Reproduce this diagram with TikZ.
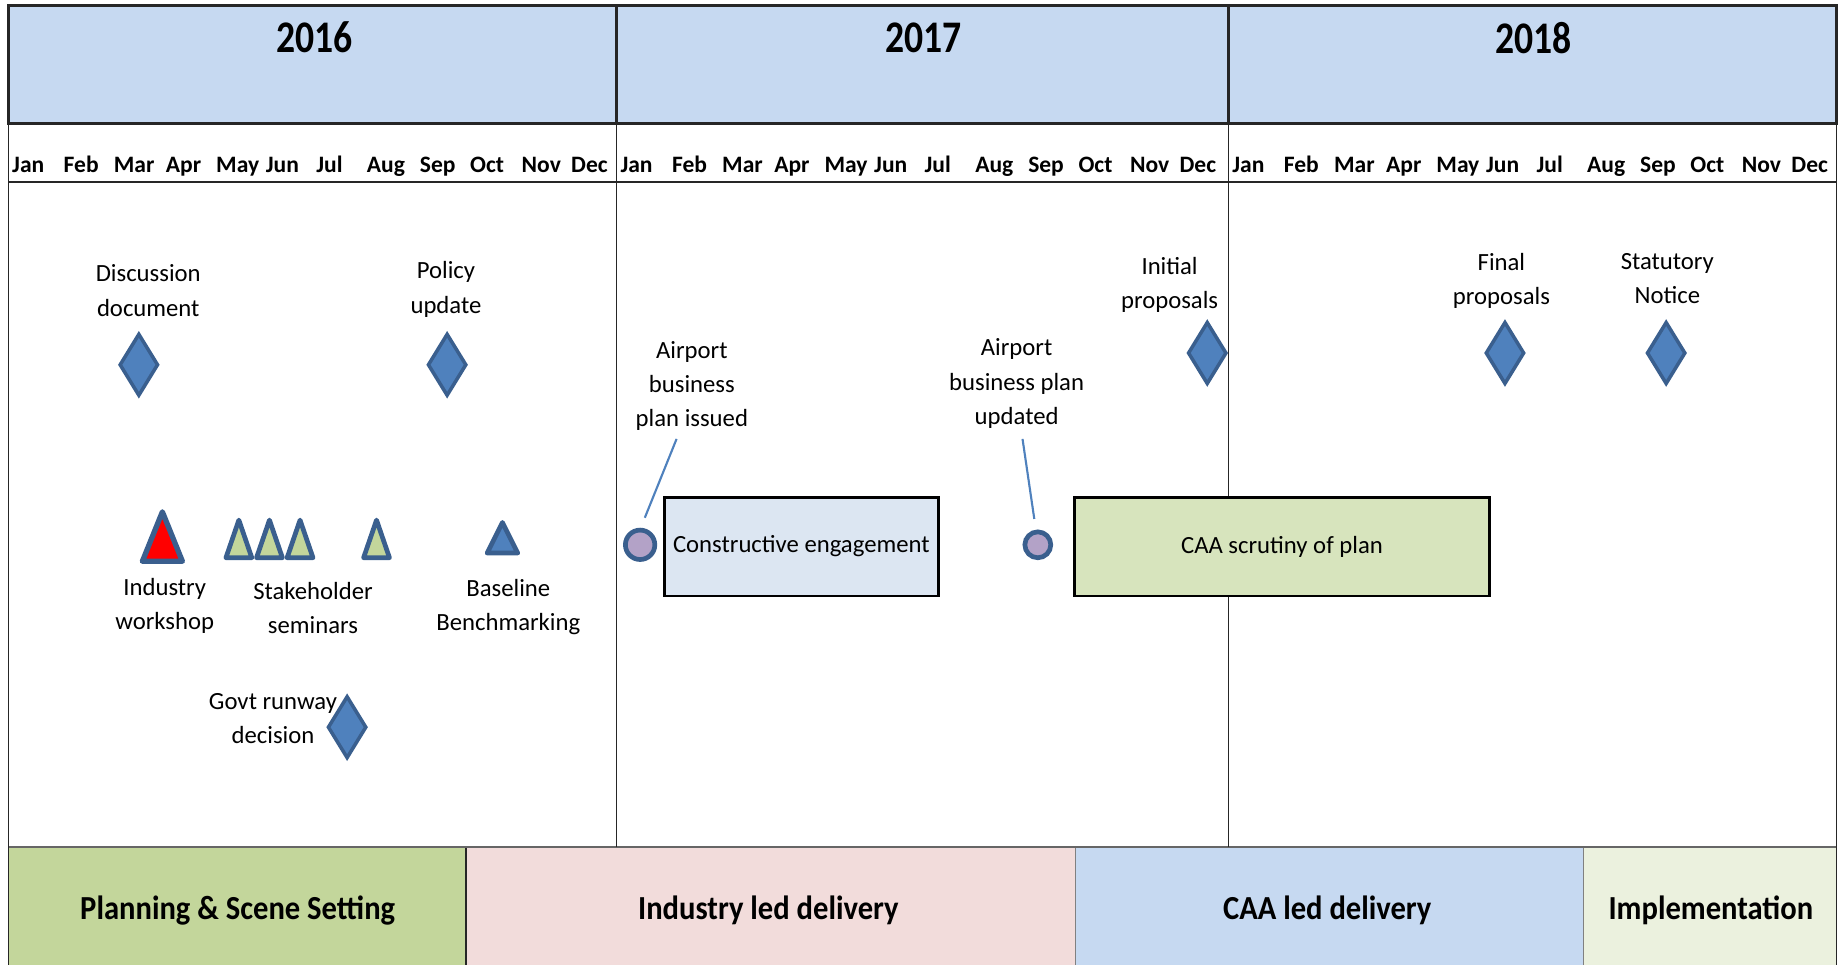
\documentclass[tikz,border=0pt]{standalone}
\usepackage{fontspec}
\setmainfont{Carlito}
\usetikzlibrary{shapes.geometric}
\definecolor{hdr}{HTML}{C6D9F1}
\definecolor{cebox}{HTML}{DCE6F2}
\definecolor{caabox}{HTML}{D7E4BD}
\definecolor{phA}{HTML}{C3D69B}
\definecolor{phB}{HTML}{F2DCDB}
\definecolor{phC}{HTML}{C6D9F1}
\definecolor{phD}{HTML}{EBF1DE}
\definecolor{dfill}{HTML}{4F81BD}
\definecolor{dbord}{HTML}{3A5F8E}
\definecolor{lav}{HTML}{B3A2C7}
\definecolor{sgreen}{HTML}{C3D69B}
\definecolor{gridc}{HTML}{262626}
\newcommand{\tallA}[1]{\scalebox{1}[1.2]{#1}}
\newcommand{\tallB}[1]{\scalebox{1}[1.1]{#1}}
\begin{document}
\begin{tikzpicture}[x=1pt,y=-1pt,
  yearlbl/.style={font=\fontsize{32}{36}\selectfont\bfseries, inner sep=0},
  monlbl/.style={font=\fontsize{20}{24}\selectfont\bfseries, inner sep=0, anchor=base},
  lbl/.style={font=\fontsize{21}{29}\selectfont, align=center, inner sep=0},
  phlbl/.style={font=\fontsize{26}{30}\selectfont\bfseries, inner sep=0},
  mile/.style={diamond, draw=dbord, fill=dfill, line width=3pt, minimum width=33pt, minimum height=53pt, inner sep=0},
  tri/.style={draw=dbord, line width=4.5pt, line join=round},
  evt/.style={circle, draw=dbord, fill=lav, line width=4pt, inner sep=0},
  bar/.style={draw=black, line width=2.5pt, inner sep=0, minimum height=84pt, font=\fontsize{21}{25}\selectfont},
  conn/.style={draw=dfill, line width=1.8pt},
  thickln/.style={draw=gridc, line width=2.5pt},
  thinln/.style={draw=gridc, line width=1pt}
]
\useasboundingbox (0,0) rectangle (1568,820);
% header
\fill[hdr] (7,5) rectangle (1561,105);
% phase row
\path[fill=phA] (7,720) rectangle (396,825);
\path[fill=phB] (396,720) rectangle (914,825);
\path[fill=phC] (914,720) rectangle (1346,825);
\path[fill=phD] (1346,720) rectangle (1561,825);
\draw[thinln] (396,720) -- (396,825);
\draw[draw=gray, line width=0.8pt] (914,720) -- (914,825);
\draw[draw=gray, line width=0.8pt] (1346,720) -- (1346,825);
\draw[draw=gray!80!black, line width=2pt] (7,720) -- (1561,720);
% body vertical lines
\draw[thinln] (524,155) -- (524,720);
\draw[thinln] (1044,155) -- (1044,720);
\draw[thinln] (7,155) -- (7,825);
\draw[thinln] (1561,155) -- (1561,825);
% header frame
\draw[thickln] (7,5) rectangle (1561,105);
\draw[thickln] (524,5) -- (524,105);
\draw[thickln] (1044,5) -- (1044,105);
\draw[thinln] (7,105) -- (7,155);
\draw[thinln] (1561,105) -- (1561,155);
\draw[draw=gridc, line width=1.6pt] (7,155) -- (1561,155);
\draw[thinln] (524,105) -- (524,155);
\draw[thinln] (1044,105) -- (1044,155);

% years
\node[yearlbl] (y2016) at (267,32) {\tallA{2016}};
\node[yearlbl] (y2017) at (785,32) {\tallA{2017}};
\node[yearlbl] (y2018) at (1303,32) {\tallA{2018}};

% months
\foreach \yr/\x in {a/7,b/524,c/1044}{
  \foreach \m/\o in {Jan/17,Feb/62,Mar/107,Apr/149,May/195,Jun/233,Jul/273,Aug/321,Sep/365,Oct/407,Nov/453,Dec/494}{
    \node[monlbl] (\yr\m) at (\x+\o,146.5) {\m};
  }
}

% milestones (diamonds)
\node[lbl] (discl) at (126,247) {Discussion\\document};
\node[mile] (disc) at (118,310) {};
\node[lbl] (poll) at (379,246) {Policy\\update};
\node[mile] (pol) at (380,310) {};
\node[lbl] (govl) at (232,611) {Govt runway\\decision};
\node[mile] (gov) at (295,618) {};
\node[lbl] (inil) at (994,242) {Initial\\proposals};
\node[mile] (ini) at (1026,300) {};
\node[lbl] (finl) at (1276,239) {Final\\proposals};
\node[mile] (fin) at (1279,300) {};
\node[lbl] (statl) at (1417,237) {Statutory\\Notice};
\node[mile] (stat) at (1416,300) {};

% triangles
\coordinate (iw) at (138,456);
\draw[tri, fill=red] (138,435) -- (155,477) -- (121,477) -- cycle;
\node[lbl] (iwl) at (140,515) {Industry\\workshop};
\coordinate (ss1) at (203,459);
\coordinate (ss2) at (229,459);
\coordinate (ss3) at (255,459);
\coordinate (ss4) at (320,459);
\foreach \cx in {203,229,255,320}{
  \draw[tri, fill=sgreen, line width=4pt] (\cx,442) -- (\cx+11,474) -- (\cx-11,474) -- cycle;
}
\node[lbl] (ssl) at (266,517) {Stakeholder\\seminars};
\coordinate (bb) at (427,458);
\draw[tri, fill=dfill, line width=4pt] (427,444) -- (440,470) -- (414,470) -- cycle;
\node[lbl] (bbl) at (432,516) {Baseline\\Benchmarking};

% airport business plan events
\node[lbl] (abil) at (588,328) {Airport\\business\\plan issued};
\node[evt, minimum size=25pt] (abi) at (544,463) {};
\coordinate (abis) at (575,373);
\coordinate (abie) at (548,440);
\draw[conn] (abis) -- (abie);

\node[lbl] (abul) at (864,326) {Airport\\business plan\\updated};
\node[evt, minimum size=22pt] (abu) at (882,463) {};
\coordinate (abus) at (869,373);
\coordinate (abue) at (879,441);
\draw[conn] (abus) -- (abue);

% bars
\node[bar, fill=cebox, minimum width=233pt] (ce) at (681,464.5) {Constructive engagement};
\node[bar, fill=caabox, minimum width=352pt] (caa) at (1089.5,464.5) {CAA scrutiny of plan};

% phases
\node[phlbl] (p1) at (202,774) {\tallB{Planning \& Scene Setting}};
\node[phlbl] (p2) at (653,774) {\tallB{Industry led delivery}};
\node[phlbl] (p3) at (1128,774) {\tallB{CAA led delivery}};
\node[phlbl] (p4) at (1454,774) {\tallB{Implementation}};
\end{tikzpicture}
\end{document}
